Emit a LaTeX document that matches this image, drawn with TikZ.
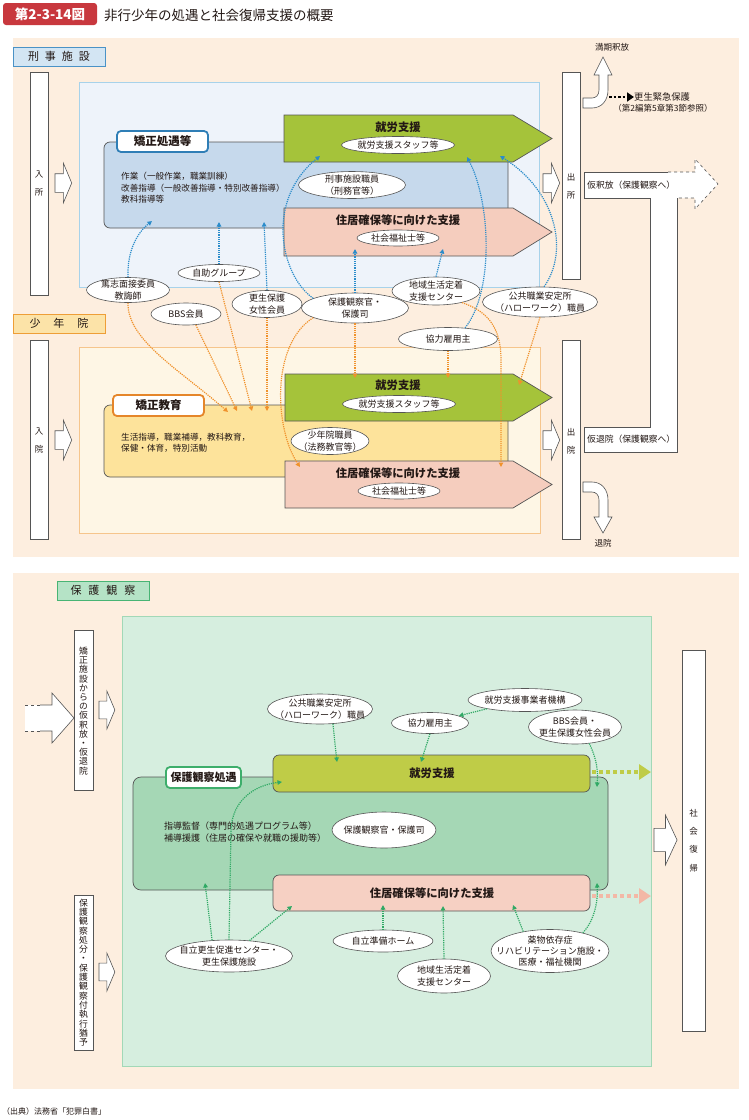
\documentclass[tikz,border=0pt]{standalone}
\usepackage{fontspec}
\setmainfont{Noto Sans CJK JP}
\usetikzlibrary{shapes.geometric,arrows.meta}
\definecolor{peach}{HTML}{FDEEDF}
\definecolor{lblueF}{HTML}{D3E5F3}
\definecolor{lblueD}{HTML}{4A92C6}
\definecolor{blueArea}{HTML}{EEF3FA}
\definecolor{blueAreaD}{HTML}{A7D2EA}
\definecolor{kyoseiBlue}{HTML}{C6D9EC}
\definecolor{kyoseiD}{HTML}{2F7EB6}
\definecolor{lorangeF}{HTML}{FCE3A8}
\definecolor{lorangeD}{HTML}{EE9E37}
\definecolor{yellowArea}{HTML}{FEF6E5}
\definecolor{yellowAreaD}{HTML}{F6C58C}
\definecolor{kyoikuY}{HTML}{FDE39B}
\definecolor{kyoikuD}{HTML}{E5862A}
\definecolor{greenP}{HTML}{A5C33A}
\definecolor{pinkP}{HTML}{F5CDBE}
\definecolor{lgreenF}{HTML}{B5E3C6}
\definecolor{lgreenD}{HTML}{48B474}
\definecolor{greenArea}{HTML}{D6EEDF}
\definecolor{greenAreaD}{HTML}{A2D8B7}
\definecolor{hogoG}{HTML}{A5D7B5}
\definecolor{hogoLabD}{HTML}{3DAE6B}
\definecolor{shuroG}{HTML}{BFCC47}
\definecolor{jukyoP}{HTML}{F6D0C3}
\definecolor{pinkArr}{HTML}{F3B8A6}
\definecolor{blueA}{HTML}{2B8CCA}
\definecolor{orangeA}{HTML}{F0922C}
\definecolor{greenA}{HTML}{30A965}
\definecolor{titlered}{HTML}{C8383E}
\definecolor{linec}{HTML}{555555}
\definecolor{txt}{HTML}{231815}
\tikzset{
  ell/.style={ellipse,draw=linec,fill=white,line width=0.6pt,inner sep=0pt},
  etext/.style={align=center,font=\fontsize{9}{11.3}\selectfont,text=txt,inner sep=0pt},
  colbox/.style={draw=linec,fill=white,line width=0.6pt,inner sep=0pt},
  area/.style={inner sep=0pt,line width=0.7pt},
  mainbox/.style={draw=linec,line width=0.7pt,inner sep=0pt,rounded corners=6pt},
  lab/.style={fill=white,line width=1.8pt,rounded corners=4pt,inner sep=0pt,font=\bfseries\fontsize{11.5}{12}\selectfont,text=txt},
  seclab/.style={line width=1pt,inner sep=0pt,font=\fontsize{11}{12}\selectfont,text=txt},
  small/.style={font=\fontsize{8.8}{10}\selectfont,text=txt,inner sep=0pt},
  coltext/.style={align=center,font=\fontsize{8.5}{18}\selectfont,text=txt,inner sep=0pt},
  bigt/.style={font=\bfseries\fontsize{11.3}{12}\selectfont,text=txt,inner sep=0pt},
  barr/.style={draw=blueA,densely dotted,line width=1.2pt,-{Triangle[length=4.5pt,width=4.5pt]}},
  oarr/.style={draw=orangeA,densely dotted,line width=1.2pt,-{Triangle[length=4.5pt,width=4.5pt]}},
  garr/.style={draw=greenA,densely dotted,line width=1.2pt,-{Triangle[length=4.5pt,width=4.5pt]}},
  harrow/.pic={\draw[fill=white,draw=linec,line width=0.6pt] (0,-9.3)--(8.3,-9.3)--(8.3,-20)--(16.7,0)--(8.3,20)--(8.3,9.3)--(0,9.3)--cycle;}
}
\newcommand\ellnode[6]{\node[ell,minimum width=#4pt,minimum height=#5pt] (#1) at (#2,#3) {};\node[etext] (#1-t) at (#2,#3) {#6};}
\begin{document}
\begin{tikzpicture}[x=1pt,y=-1pt]
\useasboundingbox (0,0) rectangle (749,1120);
\fill[white] (0,0) rectangle (749,1120);
% title
\node[fill=titlered,rounded corners=3pt,minimum width=94pt,minimum height=22pt,inner sep=0pt,text=white,font=\bfseries\fontsize{13.5}{14}\selectfont] (figno) at (50,14) {第2-3-14図};
\node[anchor=west,inner sep=0pt,text=txt,font=\fontsize{13.5}{15}\selectfont] (title) at (104,15) {非行少年の処遇と社会復帰支援の概要};
% ===== top section =====
\node[fill=peach,minimum width=726pt,minimum height=519pt,inner sep=0pt] (bg1) at (376,297.5) {};
\node[seclab,fill=lblueF,draw=lblueD,minimum width=92pt,minimum height=19pt] (lab1) at (59,56.5) {刑\hspace{6pt}事\hspace{6pt}施\hspace{6pt}設};
\node[area,fill=blueArea,draw=blueAreaD,minimum width=460pt,minimum height=205pt] (area1) at (309,184.5) {};
\node[mainbox,fill=kyoseiBlue,minimum width=404pt,minimum height=86pt] (box1) at (306,185) {};
\node[lab,draw=kyoseiD,minimum width=91pt,minimum height=21pt] (lab1b) at (162.5,141.5) {矯正処遇等};
\node[anchor=north west,align=left,font=\fontsize{8.6}{11.5}\selectfont,text=txt,inner sep=0pt] (txt1) at (121,172) {作業（一般作業，職業訓練）\\改善指導（一般改善指導・特別改善指導）\\教科指導等};
\draw[fill=greenP,draw=linec,line width=0.7pt] (284,115) -- (513,115) -- (552,138.5) -- (513,162) -- (284,162) -- cycle;
\node[bigt] (p1t) at (398,127) {就労支援};
\ellnode{e_staff1}{398}{145}{113}{17}{就労支援スタッフ等}
\draw[fill=pinkP,draw=linec,line width=0.7pt] (284,208) -- (513,208) -- (552,232) -- (513,256) -- (284,256) -- cycle;
\node[bigt] (p2t) at (398,220) {住居確保等に向けた支援};
\ellnode{e_fuku1}{398}{238}{82}{16}{社会福祉士等}
\ellnode{e_keiji}{352}{185}{107}{27}{刑事施設職員\\（刑務官等）}
\node[colbox,minimum width=18pt,minimum height=223pt] (col_in1) at (39,183.5) {};
\node[coltext] (t_in1) at (39,184) {入\\所};
\pic at (55,183) {harrow};
\node[colbox,minimum width=18pt,minimum height=207pt] (col_out1) at (571,175.5) {};
\node[coltext] (t_out1) at (571,186) {出\\所};
\pic at (543,183) {harrow};
% ===== juvenile =====
\node[seclab,fill=lorangeF,draw=lorangeD,minimum width=92pt,minimum height=19pt] (lab2) at (59,323.5) {少\hspace{13pt}年\hspace{13pt}院};
\node[colbox,minimum width=18pt,minimum height=199pt] (col_in2) at (39,439.5) {};
\node[coltext] (t_in2) at (39,441) {入\\院};
\pic at (55,440) {harrow};
\node[area,fill=yellowArea,draw=yellowAreaD,minimum width=461pt,minimum height=186pt] (area2) at (309.5,440) {};
\node[mainbox,fill=kyoikuY,minimum width=404pt,minimum height=72pt] (box2) at (306,441) {};
\node[lab,draw=kyoikuD,minimum width=91pt,minimum height=21pt] (lab2b) at (158.5,405.5) {矯正教育};
\node[anchor=north west,align=left,font=\fontsize{8.6}{11}\selectfont,text=txt,inner sep=0pt] (txt2) at (121,433.5) {生活指導，職業補導，教科教育，\\保健・体育，特別活動};
\draw[fill=greenP,draw=linec,line width=0.7pt] (285,374) -- (513,374) -- (552,397.5) -- (513,421) -- (285,421) -- cycle;
\node[bigt] (p3t) at (398,385) {就労支援};
\ellnode{e_staff2}{399}{404}{113}{17}{就労支援スタッフ等}
\draw[fill=pinkP,draw=linec,line width=0.7pt] (285,461) -- (513,461) -- (552,484.5) -- (513,508) -- (285,508) -- cycle;
\node[bigt] (p4t) at (398,473) {住居確保等に向けた支援};
\ellnode{e_fuku2}{399}{491}{82}{16}{社会福祉士等}
\ellnode{e_shonen}{330}{441}{78}{27}{少年院職員\\（法務教官等）}
\node[colbox,minimum width=18pt,minimum height=199pt] (col_out2) at (571,439.5) {};
\node[coltext] (t_out2) at (571,441) {出\\院};
\pic at (543,440) {harrow};
% ===== right side exits =====
\draw[fill=white,draw=linec,line width=0.6pt] (583,108) -- (592,108) .. controls (602,108) and (608,100) .. (608,90) -- (608,75) -- (612,75) -- (603,57) -- (594,75) -- (599,75) -- (599,90) .. controls (599,95) and (596,98) .. (592,98) -- (583,98) -- cycle;
\node[small,font=\fontsize{8.5}{9}\selectfont] (t_manki) at (612,47) {満期釈放};
\coordinate (kk1) at (609,97);
\coordinate (kk2) at (634,97);
\draw[black,line width=2.6pt,dash pattern=on 2.5pt off 2pt,-{Triangle[length=7pt,width=9pt]}] (kk1) -- (kk2);
\node[small,anchor=west,font=\fontsize{9.3}{10}\selectfont] (t_kinkyu) at (634,97) {更生緊急保護};
\node[small,font=\fontsize{8.5}{9}\selectfont] (t_sansho) at (663,108.5) {（第2編第5章第3節参照）};
\fill[white] (584,172) -- (695,172) -- (695,159) -- (718,184) -- (695,209) -- (695,198) -- (677,198) -- (677,452) -- (584,452) -- (584,427) -- (650,427) -- (650,198) -- (584,198) -- cycle;
\draw[linec,line width=0.6pt] (668,172) -- (584,172) -- (584,198) -- (650,198) -- (650,427) -- (584,427) -- (584,452) -- (677,452) -- (677,198);
\draw[linec,line width=0.6pt,dashed] (668,172) -- (695,172) -- (695,159) -- (718,184) -- (695,209) -- (695,198) -- (677,198);
\node[small,anchor=west] (t_karishaku) at (587,185) {仮釈放（保護観察へ）};
\node[small,anchor=west] (t_karitai) at (587,439.5) {仮退院（保護観察へ）};
\draw[fill=white,draw=linec,line width=0.6pt] (583,482) -- (592,482) .. controls (602,482) and (608,490) .. (608,500) -- (608,517) -- (612,517) -- (603,533) -- (594,517) -- (599,517) -- (599,500) .. controls (599,495) and (596,492) .. (592,492) -- (583,492) -- cycle;
\node[small,font=\fontsize{8.5}{9}\selectfont] (t_taiin) at (603,543) {退院};
% ===== top ellipses =====
\ellnode{e_tokushi}{128}{290}{83}{25}{篤志面接委員\\教誨師}
\ellnode{e_jijo}{219}{273}{82}{17}{自助グループ}
\ellnode{e_bbs}{186}{314}{70}{22}{BBS会員}
\ellnode{e_kosei}{267}{304}{70}{27}{更生保護\\女性会員}
\ellnode{e_hogo}{355}{308}{107}{30}{保護観察官・\\保護司}
\ellnode{e_chiiki}{436}{291}{88}{28}{地域生活定着\\支援センター}
\ellnode{e_hello}{540}{302}{115}{30}{公共職業安定所\\（ハローワーク）職員}
\ellnode{e_kyoryoku}{448}{339}{99}{23}{協力雇用主}
% targets
\coordinate (bt1) at (152,221);
\coordinate (bt2) at (219,222);
\coordinate (bt3) at (264,222);
\coordinate (bt4) at (320,156);
\coordinate (bt5) at (355,249);
\coordinate (bt6) at (443,249);
\coordinate (bt7) at (467,157);
\coordinate (bt8) at (500,156);
\coordinate (ot1) at (228,412);
\coordinate (ot2) at (237,411);
\coordinate (ot3) at (252,411);
\coordinate (ot4) at (267,411);
\coordinate (ot5) at (300,467);
\coordinate (ot6) at (355,378);
\coordinate (ot7) at (448,378);
\coordinate (ot8) at (501,467);
\coordinate (ot9) at (519,385);
% blue arrows
\draw[barr] (e_tokushi.north) .. controls (127,250) and (138,232) .. (bt1);
\draw[barr] (e_jijo.north) -- (bt2);
\draw[barr] (e_kosei.north) -- (bt3);
\draw[barr] (e_hogo.167) .. controls (280,275) and (265,200) .. (bt4);
\draw[barr] (e_hogo.north) -- (bt5);
\draw[barr] (e_chiiki.north) -- (bt6);
\draw[barr] (e_kyoryoku.33) .. controls (495,290) and (490,200) .. (bt7);
\draw[barr] (e_hello.75) .. controls (570,250) and (555,190) .. (bt8);
% orange arrows
\draw[oarr] (e_tokushi.south) .. controls (127,340) and (180,370) .. (ot1);
\draw[oarr] (e_bbs.-48) -- (ot2);
\draw[oarr] (e_jijo.south) -- (ot3);
\draw[oarr] (e_kosei.south) -- (ot4);
\draw[oarr] (e_hogo.193) .. controls (270,345) and (275,430) .. (ot5);
\draw[oarr] (e_hogo.south) -- (ot6);
\draw[oarr] (e_kyoryoku.south) -- (ot7);
\draw[oarr] (e_chiiki.-24) .. controls (490,312) and (501,330) .. (501,360) -- (ot8);
\draw[oarr] (e_hello.south) -- (ot9);
% ===== bottom section =====
\node[fill=peach,minimum width=726pt,minimum height=516pt,inner sep=0pt] (bg2) at (376,831) {};
\node[seclab,fill=lgreenF,draw=lgreenD,minimum width=92pt,minimum height=19pt] (lab3) at (103,590.5) {保\hspace{7pt}護\hspace{7pt}観\hspace{7pt}察};
\node[area,fill=greenArea,draw=greenAreaD,minimum width=529pt,minimum height=450pt] (area3) at (386.5,841) {};
\node[colbox,minimum width=19pt,minimum height=160pt] (col_b1) at (83.5,710) {};
\node[align=center,font=\fontsize{8.8}{9.2}\selectfont,text=txt,inner sep=0pt] (t_b1) at (83.5,711) {矯\\正\\施\\設\\か\\ら\\の\\仮\\釈\\放\\・\\仮\\退\\院};
\node[colbox,minimum width=19pt,minimum height=155pt] (col_b2) at (83.5,972.5) {};
\node[align=center,font=\fontsize{8.8}{9.3}\selectfont,text=txt,inner sep=0pt] (t_b2) at (83.5,972.5) {保\\護\\観\\察\\処\\分\\・\\保\\護\\観\\察\\付\\執\\行\\猶\\予};
\node[colbox,minimum width=23pt,minimum height=381pt] (col_b3) at (693.5,840.5) {};
\node[coltext,font=\fontsize{8.5}{18.3}\selectfont] (t_b3) at (693.5,840.5) {社\\会\\復\\帰};
\fill[white] (25,705) -- (52,705) -- (52,693) -- (74,718) -- (52,743) -- (52,731) -- (25,731) -- cycle;
\draw[linec,line width=0.6pt] (40,705) -- (52,705) -- (52,693) -- (74,718) -- (52,743) -- (52,731) -- (40,731);
\draw[linec,line width=0.6pt,dashed] (25,705) -- (40,705) (25,731) -- (40,731);
\pic[scale=0.95] at (99,710) {harrow};
\pic[scale=0.95] at (99,972) {harrow};
\pic[xscale=1.38,yscale=1.25] at (654,840) {harrow};
\node[mainbox,fill=hogoG,rounded corners=8pt,minimum width=475pt,minimum height=113pt] (box3) at (370.5,833.5) {};
\node[lab,draw=hogoLabD,minimum width=75pt,minimum height=21pt,font=\bfseries\fontsize{11}{12}\selectfont] (lab3b) at (203.5,777.5) {保護観察処遇};
\node[mainbox,fill=shuroG,minimum width=317pt,minimum height=37pt] (shuro3) at (431.5,773.5) {};
\node[bigt] (shuro3t) at (432,773) {就労支援};
\node[mainbox,fill=jukyoP,minimum width=317pt,minimum height=36pt] (jukyo3) at (431.5,893) {};
\node[bigt] (jukyo3t) at (432,893) {住居確保等に向けた支援};
\node[anchor=north west,align=left,font=\fontsize{9}{12}\selectfont,text=txt,inner sep=0pt] (txt3) at (164,822) {指導監督（専門的処遇プログラム等）\\補導援護（住居の確保や就職の援助等）};
\ellnode{e_hogo3}{384}{830}{104}{36}{保護観察官・保護司}
\ellnode{e_hello3}{320}{709}{105}{30}{公共職業安定所\\（ハローワーク）職員}
\ellnode{e_kyoryoku3}{430}{723}{77}{21}{協力雇用主}
\ellnode{e_kiko}{525}{700}{114}{23}{就労支援事業者機構}
\ellnode{e_bbs3}{575}{727}{93}{34}{BBS会員・\\更生保護女性会員}
\ellnode{e_jiritsu}{229}{956}{127}{32}{自立更生促進センター・\\更生保護施設}
\ellnode{e_jumbi}{383}{941}{100}{22}{自立準備ホーム}
\ellnode{e_chiiki3}{444}{976}{93}{34}{地域生活定着\\支援センター}
\ellnode{e_yakubutsu}{550}{951}{118}{43}{薬物依存症\\リハビリテーション施設・\\医療・福祉機関}
\coordinate (ra1) at (651,772);
\coordinate (ra2) at (651,896);
\coordinate (rs1) at (592,772);
\coordinate (rs2) at (592,896);
\draw[shuroG,line width=4pt,dash pattern=on 4pt off 3pt,-{Triangle[length=12pt,width=15pt]}] (rs1) -- (ra1);
\draw[pinkArr,line width=4pt,dash pattern=on 4pt off 3pt,-{Triangle[length=12pt,width=15pt]}] (rs2) -- (ra2);
\coordinate (gt1) at (337,762);
\coordinate (gt3) at (421,762);
\coordinate (gt4) at (597,787);
\coordinate (gt5) at (205,883);
\coordinate (gt6) at (282,782);
\coordinate (gt7) at (292,906);
\coordinate (gt8) at (383,905);
\coordinate (gt9) at (443,906);
\coordinate (gt10) at (513,905);
\coordinate (gt11) at (597,883);
\draw[garr] (e_hello3.-49) -- (gt1);
\draw[garr] (e_kiko.193) -- (e_kyoryoku3.14);
\draw[garr] (e_kyoryoku3.south) -- (gt3);
\draw[garr] (e_bbs3.-49) .. controls (597,760) and (598,770) .. (gt4);
\draw[garr] (e_jiritsu.137) -- (gt5);
\draw[garr] (e_jiritsu.north) -- (231,830) .. controls (232,800) and (255,785) .. (gt6);
\draw[garr] (e_jiritsu.37) -- (gt7);
\draw[garr] (e_jumbi.north) -- (gt8);
\draw[garr] (e_chiiki3.north) -- (gt9);
\draw[garr] (e_yakubutsu.144) -- (gt10);
\draw[garr] (e_yakubutsu.29) .. controls (595,920) and (598,900) .. (gt11);
% source
\node[anchor=west,inner sep=0pt,text=txt,font=\fontsize{8}{9}\selectfont] (source) at (2,1111) {（出典）法務省「犯罪白書」};
\end{tikzpicture}
\end{document}
